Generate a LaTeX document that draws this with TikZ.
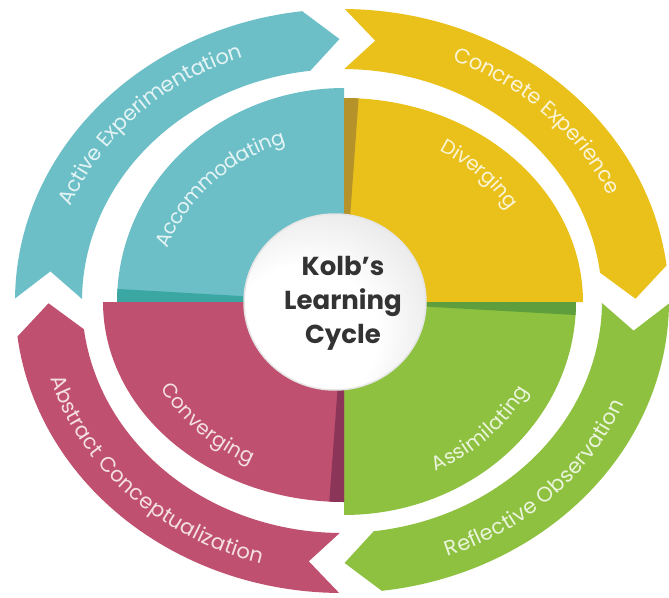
\documentclass[tikz,border=0pt]{standalone}
\usepackage{fontspec}
\setmainfont{Poppins}
\usetikzlibrary{decorations.text}

\definecolor{tealband}{HTML}{6CBFC7}
\definecolor{tealfold}{HTML}{3AA7A3}
\definecolor{yellowband}{HTML}{E9C11A}
\definecolor{yellowfold}{HTML}{B5922A}
\definecolor{greenband}{HTML}{8DC13F}
\definecolor{greenfold}{HTML}{5E9E3C}
\definecolor{roseband}{HTML}{C0506F}
\definecolor{rosefold}{HTML}{8B3558}
\definecolor{titlegrey}{HTML}{333333}

% one curved arrow of the outer ring: #1 start angle (clockwise), #2 colour
\newcommand\ringsegment[2]{%
  \pgfmathsetmacro\segA{#1+0.5}%
  \pgfmathsetmacro\segB{#1+83}%
  \pgfmathsetmacro\segTip{#1+89.5}%
  \pgfmathsetmacro\segNotch{#1+6.5}%
  \fill[#2, shift={(C)}]
    plot[domain=\segA:\segB, samples=60] (\x:327 and 292)
    -- (\segTip:293.5 and 262)
    -- plot[domain=\segB:\segA, samples=60] (\x:260 and 232)
    -- (\segNotch:293.5 and 262) -- cycle;}

% one inner quarter disc with its darker fold: #1 start angle, #2/#3 radii, #4 colour, #5 fold colour
\newcommand\quarterdisc[5]{%
  \pgfmathsetmacro\qEnd{#1+90}%
  \pgfmathsetmacro\qFold{#1+3.5}%
  \fill[#4, shift={(Q)}] (0,0) -- plot[domain=#1:\qEnd, samples=60] (\x:#2 and #3) -- cycle;
  \fill[#5, shift={(Q)}] (0,0) -- plot[domain=#1:\qFold, samples=8] (\x:#2 and #3) -- cycle;}

% text set along an elliptical arc: #1 from, #2 to, #3/#4 radii, #5 format, #6 text
\newcommand\arclabel[6]{%
  \path[shift={(C)}, decorate,
    decoration={text along path, text align=center, raise=-6.5pt,
      text={|#5|#6}}]
    plot[domain=#1:#2, samples=90] (\x:#3 and #4);}

\newcommand\outerfont[1]{\fontsize{21}{21}\selectfont\color{white!82!#1}}
\newcommand\innerfont[1]{\fontsize{20}{20}\selectfont\color{white!82!#1}}

\begin{document}
\begin{tikzpicture}[x=1pt,y=-1pt]
\useasboundingbox (0,0) rectangle (669,597);
\fill[white] (0,0) rectangle (669,597);
\coordinate (C) at (342,301);
\coordinate (Q) at (344,302);

% outer ring of four arrows
\ringsegment{180}{tealband}
\ringsegment{270}{yellowband}
\ringsegment{0}{greenband}
\ringsegment{90}{roseband}

% inner quarter discs
\quarterdisc{180}{227}{214}{tealband}{tealfold}
\quarterdisc{270}{239}{204}{yellowband}{yellowfold}
\quarterdisc{0}{232}{213}{greenband}{greenfold}
\quarterdisc{90}{241}{200}{roseband}{rosefold}

% stage labels on the ring
\arclabel{185}{265}{298}{266}{\outerfont{tealband}}{Active Experimentation}
\arclabel{275}{355}{298}{266}{\outerfont{yellowband}}{Concrete Experience}
\arclabel{85}{5}{298}{266}{\outerfont{greenband}}{Reflective Observation}
\arclabel{175}{95}{298}{266}{\outerfont{roseband}}{Abstract Conceptualization}

% style labels on the quarter discs
\arclabel{188}{262}{190}{172}{\innerfont{tealband}}{Accommodating}
\arclabel{278}{352}{202}{180}{\innerfont{yellowband}}{Diverging}
\arclabel{82}{8}{205}{184}{\innerfont{greenband}}{Assimilating}
\arclabel{172}{98}{200}{176}{\innerfont{roseband}}{Converging}

% central disc
\pgfdeclareradialshading{discshade}{\pgfpoint{-14bp}{-16bp}}{%
  color(0bp)=(white); color(20bp)=(white); color(42bp)=(black!14); color(50bp)=(black!26)}
\shade[shading=discshade] (335,302) ellipse [x radius=91, y radius=88];
\draw[black!10, line width=1.5pt] (335,302) ellipse [x radius=91, y radius=88];
\node[align=center, text=titlegrey, font=\bfseries\fontsize{26}{34}\selectfont]
  (title) at (343,303) {Kolb’s\\Learning\\Cycle};
\end{tikzpicture}
\end{document}
